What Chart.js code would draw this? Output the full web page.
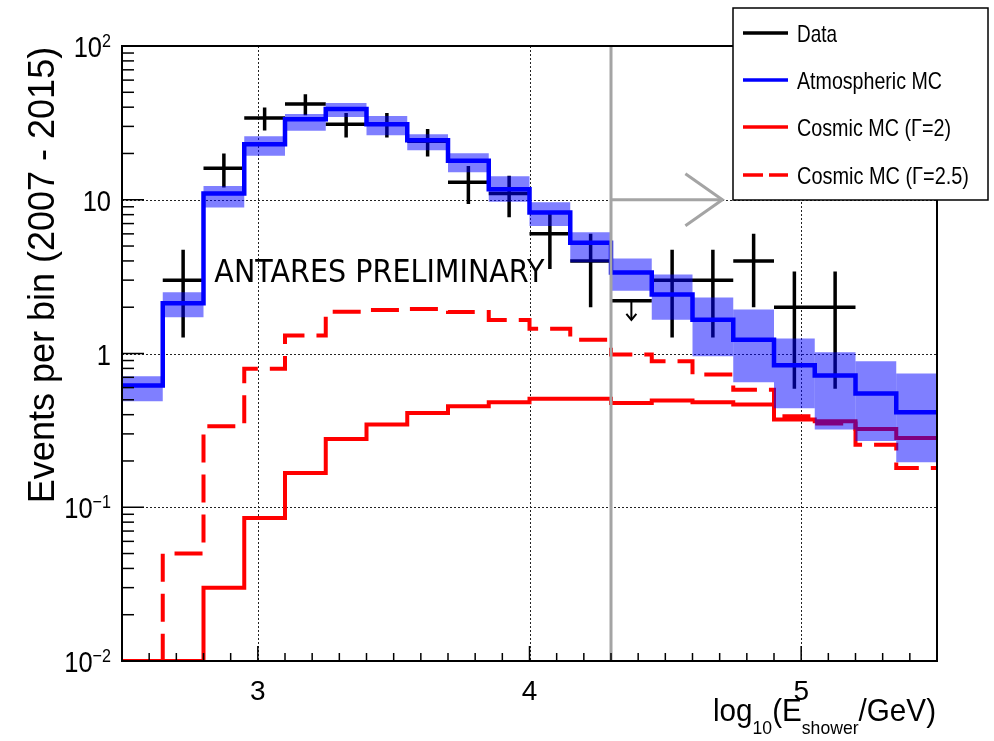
<!DOCTYPE html>
<html>
<head>
<meta charset="utf-8">
<script src="https://cdn.jsdelivr.net/npm/chart.js@4.4.1/dist/chart.umd.min.js"></script>
<style>
  html, body { margin: 0; padding: 0; background: #fff; overflow: hidden; }
  canvas { display: block; }
</style>
</head>
<body>
<canvas id="c" width="994" height="741"></canvas>
<script>
// bins in log10(E_shower/GeV), 0.15 wide
const binCenters = [2.575, 2.725, 2.875, 3.025, 3.175, 3.325, 3.475, 3.625, 3.775, 3.925,
                    4.075, 4.225, 4.375, 4.525, 4.675, 4.825, 4.975, 5.125, 5.275, 5.425];
const binWidth = 0.15;

// atmospheric MC and its uncertainty band
const atmMC   = [0.62, 2.12, 11.0, 23.0, 33.4, 38.9, 31.0, 24.4, 17.9, 11.7,
                 8.26, 5.26, 3.37, 2.42, 1.66, 1.23, 0.84, 0.72, 0.55, 0.415];
const atmLow  = [0.49, 1.72, 8.9, 19.3, 28.1, 34.5, 26.3, 21.0, 15.1, 9.7,
                 6.75, 3.92, 2.56, 1.66, 0.96, 0.65, 0.44, 0.32, 0.27, 0.196];
const atmHigh = [0.71, 2.5, 12.3, 25.9, 36.1, 42.6, 35.0, 26.7, 20.1, 14.2,
                 9.63, 6.14, 4.15, 3.27, 2.31, 1.93, 1.25, 1.02, 0.89, 0.74];

// cosmic MC (0 = empty bin)
const cosmicG2  = [0, 0, 0.03, 0.085, 0.167, 0.278, 0.345, 0.41, 0.454, 0.482,
                   0.507, 0.507, 0.477, 0.494, 0.482, 0.466, 0.372, 0.362, 0.323, 0.282];
const cosmicG25 = [0, 0.05, 0.336, 0.795, 1.31, 1.87, 1.92, 1.95, 1.86, 1.65,
                   1.45, 1.23, 0.985, 0.89, 0.73, 0.58, 0.39, 0.35, 0.255, 0.18];

// data (null = no point); bin 13 is drawn as an upper limit
const dataCounts = [null, 3, 16, 34, 42, 31, 31, 24, 13, 11, 6, 4, 2.2, 3, 3, 4, 2, 2, null, null];
const dataErrLow = [null, 1.27, 12.0, 28.2, 35.5, 25.4, 25.4, 19.1, 9.4, 7.7,
                    3.55, 2.0, null, 1.27, 1.27, 2.0, 0.59, 0.59, null, null];
const dataErrHigh = [null, 4.73, 20.0, 39.8, 48.5, 36.6, 36.6, 28.9, 16.6, 14.3,
                     8.45, 6.0, null, 4.73, 4.73, 6.0, 3.41, 3.41, null, null];

const xTickValues = [3, 4, 5];
const xTickLabels = ['3', '4', '5'];
const yTickValues = [0.01, 0.1, 1, 10, 100];
const yTickLabels = ['10^-2', '10^-1', '1', '10', '10^2'];

const energyCut = 4.3;
const cutArrowEnd = 4.71;
const cutArrowLevel = 10;

const xMin = 2.5, xMax = 5.5, yMin = 0.01, yMax = 100;

const SANS = '"Liberation Sans", Arial, sans-serif';

function stepPoints(vals) {
  const pts = binCenters.map((x, i) => ({ x: x - binWidth / 2, y: Math.max(vals[i], yMin) }));
  pts.push({ x: binCenters[binCenters.length - 1] + binWidth / 2, y: Math.max(vals[vals.length - 1], yMin) });
  return pts;
}

function crossPoints() {
  const pts = [];
  binCenters.forEach((x, i) => {
    const v = dataCounts[i];
    if (v == null) return;
    pts.push({ x: x - binWidth / 2, y: v }, { x: x + binWidth / 2, y: v }, { x: x, y: null });
    if (dataErrLow[i] != null) {
      pts.push({ x: x, y: dataErrLow[i] }, { x: x, y: dataErrHigh[i] }, { x: x, y: null });
    }
  });
  return pts;
}

function line(ctx, x1, y1, x2, y2) {
  ctx.beginPath(); ctx.moveTo(x1, y1); ctx.lineTo(x2, y2); ctx.stroke();
}

function powerLabel(ctx, label, xRight, yMid) {
  const parts = label.split('^');
  const base = parts[0];
  const exp = parts[1] ? parts[1].replace('-', '\u2212') : '';
  const sx = 0.85;
  ctx.font = '30px ' + SANS;
  const wb = ctx.measureText(base).width;
  ctx.font = '19px ' + SANS;
  const we = exp ? ctx.measureText(exp).width : 0;
  ctx.save();
  ctx.translate(xRight - (wb + we) * sx, yMid);
  ctx.scale(sx, 1);
  ctx.textAlign = 'left';
  ctx.textBaseline = 'alphabetic';
  ctx.font = '30px ' + SANS;
  ctx.fillText(base, 0, 11);
  if (exp) { ctx.font = '19px ' + SANS; ctx.fillText(exp, wb, 1); }
  ctx.restore();
}

const rootStyle = {
  id: 'rootStyle',
  beforeDraw(chart) {
    const ctx = chart.ctx;
    ctx.save();
    ctx.fillStyle = '#fff';
    ctx.fillRect(0, 0, chart.width, chart.height);
    ctx.restore();
  },
  beforeDatasetsDraw(chart) {
    const { ctx, chartArea: a, scales: { x, y } } = chart;
    ctx.save();
    ctx.strokeStyle = '#222';
    ctx.lineWidth = 1;
    ctx.setLineDash([2, 2]);
    xTickValues.forEach(v => {
      const px = Math.round(x.getPixelForValue(v)) + 0.5;
      line(ctx, px, a.top, px, a.bottom);
    });
    yTickValues.slice(1, -1).forEach(v => {
      const py = Math.round(y.getPixelForValue(v)) + 0.5;
      line(ctx, a.left, py, a.right, py);
    });
    ctx.restore();
  },
  afterDatasetsDraw(chart) {
    const { ctx, chartArea: a, scales: { x, y } } = chart;
    ctx.save();

    // energy cut line and arrow
    ctx.strokeStyle = '#a4a4a4';
    ctx.lineWidth = 3;
    const cx = x.getPixelForValue(energyCut);
    line(ctx, cx, a.top, cx, a.bottom);
    const ay = y.getPixelForValue(cutArrowLevel);
    const ax = x.getPixelForValue(cutArrowEnd);
    line(ctx, cx, ay, ax, ay);
    ctx.beginPath();
    ctx.moveTo(ax - 37, ay - 26); ctx.lineTo(ax, ay); ctx.lineTo(ax - 37, ay + 26);
    ctx.stroke();

    // upper-limit arrow for data points without error bars
    ctx.strokeStyle = '#000';
    ctx.lineWidth = 2;
    binCenters.forEach((bx, i) => {
      if (dataCounts[i] == null || dataErrLow[i] != null) return;
      const px = x.getPixelForValue(bx);
      const py = y.getPixelForValue(dataCounts[i]);
      line(ctx, px, py, px, py + 19);
      ctx.beginPath();
      ctx.moveTo(px - 5, py + 13); ctx.lineTo(px, py + 19); ctx.lineTo(px + 5, py + 13);
      ctx.stroke();
    });

    // frame
    ctx.lineWidth = 2;
    ctx.strokeRect(a.left, a.top, a.right - a.left, a.bottom - a.top);

    // ticks (inward)
    ctx.lineWidth = 1.5;
    for (let k = Math.round(xMin * 10); k <= Math.round(xMax * 10); k++) {
      const px = x.getPixelForValue(k / 10);
      line(ctx, px, a.bottom, px, a.bottom - (k % 10 === 0 ? 15 : 8));
    }
    for (let d = -2; d <= 1; d++) {
      for (let m = 1; m <= 9; m++) {
        const py = y.getPixelForValue(m * Math.pow(10, d));
        line(ctx, a.left, py, a.left + (m === 1 ? 22 : 12), py);
      }
    }

    // tick labels
    ctx.fillStyle = '#000';
    yTickValues.forEach((v, i) => powerLabel(ctx, yTickLabels[i], 111, y.getPixelForValue(v)));
    ctx.font = '28px ' + SANS;
    ctx.textAlign = 'center';
    ctx.textBaseline = 'alphabetic';
    xTickValues.forEach((v, i) => ctx.fillText(xTickLabels[i], x.getPixelForValue(v), 700));

    // axis titles
    ctx.save();
    ctx.translate(54, 275);
    ctx.rotate(-Math.PI / 2);
    ctx.font = '36px ' + SANS;
    ctx.textAlign = 'center';
    ctx.fillText('Events per bin (2007 - 2015)', 0, 0);
    ctx.restore();

    const titleParts = [['log', 0], ['10', 1], ['(E', 0], ['shower', 1], ['/GeV)', 0]];
    let tw = 0;
    titleParts.forEach(p => { ctx.font = (p[1] ? '19px ' : '32px ') + SANS; tw += ctx.measureText(p[0]).width; });
    const tsx = 223 / tw;
    ctx.save();
    ctx.translate(a.right - 1 - 223, 721);
    ctx.scale(tsx, 1);
    ctx.textAlign = 'left';
    let tx = 0;
    titleParts.forEach(p => {
      ctx.font = (p[1] ? '19px ' : '32px ') + SANS;
      ctx.fillText(p[0], tx, p[1] ? 13 : 0);
      tx += ctx.measureText(p[0]).width;
    });
    ctx.restore();

    // preliminary tag
    ctx.font = '32px "DejaVu Sans", sans-serif';
    ctx.textAlign = 'left';
    ctx.fillText('ANTARES PRELIMINARY', x.getPixelForValue(2.84), y.getPixelForValue(2.9), 330);

    // legend box
    const L = { left: 733, top: 8, right: 988, bottom: 200 };
    ctx.fillStyle = '#fff';
    ctx.fillRect(L.left, L.top, L.right - L.left, L.bottom - L.top);
    ctx.strokeStyle = '#000';
    ctx.lineWidth = 1.5;
    ctx.strokeRect(L.left, L.top, L.right - L.left, L.bottom - L.top);
    const legendRows = [
      { ds: 4, y: 33, w: 40 },
      { ds: 0, y: 80, w: 145 },
      { ds: 2, y: 127, w: 154 },
      { ds: 3, y: 175, w: 172 }
    ];
    ctx.font = '24px ' + SANS;
    legendRows.forEach(r => {
      const ds = chart.data.datasets[r.ds];
      ctx.strokeStyle = ds.borderColor;
      ctx.lineWidth = 3.5;
      ctx.setLineDash(ds.borderDash ? [20, 6] : []);
      line(ctx, 743, r.y, 788, r.y);
      ctx.setLineDash([]);
      ctx.fillStyle = '#000';
      ctx.fillText(ds.label, 797, r.y + 9, r.w);
    });

    ctx.restore();
  }
};

new Chart(document.getElementById('c'), {
  type: 'line',
  data: {
    datasets: [
      {
        label: 'Atmospheric MC',
        data: stepPoints(atmMC),
        stepped: true,
        borderColor: '#0000ff',
        borderWidth: 4.5,
        pointRadius: 0,
        fill: false,
        order: 0
      },
      {
        type: 'bar',
        label: 'Atmospheric MC band',
        data: binCenters.map((x, i) => ({ x: x, y: [atmLow[i], atmHigh[i]] })),
        backgroundColor: 'rgba(0, 0, 255, 0.5)',
        borderWidth: 0,
        barPercentage: 1,
        categoryPercentage: 1,
        inflateAmount: 0,
        order: 1
      },
      {
        label: 'Cosmic MC (\u0393=2)',
        data: stepPoints(cosmicG2),
        stepped: true,
        borderColor: '#ff0000',
        borderWidth: 4,
        pointRadius: 0,
        fill: false,
        order: 3
      },
      {
        label: 'Cosmic MC (\u0393=2.5)',
        data: stepPoints(cosmicG25),
        stepped: true,
        borderColor: '#ff0000',
        borderWidth: 4,
        borderDash: [28, 12],
        pointRadius: 0,
        fill: false,
        order: 4
      },
      {
        label: 'Data',
        data: crossPoints(),
        borderColor: '#000000',
        borderWidth: 3.5,
        borderCapStyle: 'butt',
        pointRadius: 0,
        spanGaps: false,
        fill: false,
        order: 2
      }
    ]
  },
  options: {
    responsive: false,
    animation: false,
    devicePixelRatio: 1,
    layout: { padding: { left: 122, top: 46, right: 57, bottom: 80 } },
    plugins: { legend: { display: false }, tooltip: { enabled: false } },
    scales: {
      x: { type: 'linear', min: xMin, max: xMax, offset: false, display: false },
      y: { type: 'logarithmic', min: yMin, max: yMax, display: false }
    }
  },
  plugins: [rootStyle]
});
</script>
</body>
</html>
